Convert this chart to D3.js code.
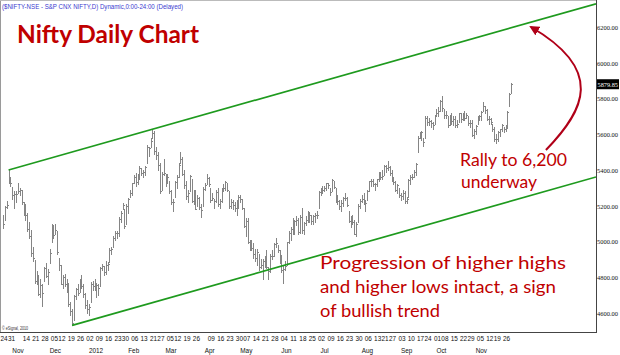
<!DOCTYPE html>
<html><head><meta charset="utf-8">
<script src="https://cdn.jsdelivr.net/npm/d3@7"></script>
<style>body{margin:0;background:#fff}svg{display:block}</style>
</head><body><svg id="c" width="620" height="355"></svg>
<script>
// ---------- DATA ----------
const dates = [
"2011-10-24","2011-10-25","2011-10-26","2011-10-28","2011-10-31",
"2011-11-01","2011-11-02","2011-11-03","2011-11-04","2011-11-08","2011-11-09","2011-11-11","2011-11-14","2011-11-15","2011-11-16","2011-11-17","2011-11-18","2011-11-21","2011-11-22","2011-11-23","2011-11-24","2011-11-25","2011-11-28","2011-11-29","2011-11-30",
"2011-12-01","2011-12-02","2011-12-05","2011-12-07","2011-12-08","2011-12-09","2011-12-12","2011-12-13","2011-12-14","2011-12-15","2011-12-16","2011-12-19","2011-12-20","2011-12-21","2011-12-22","2011-12-23","2011-12-26","2011-12-27","2011-12-28","2011-12-29","2011-12-30",
"2012-01-02","2012-01-03","2012-01-04","2012-01-05","2012-01-06","2012-01-09","2012-01-10","2012-01-11","2012-01-12","2012-01-13","2012-01-16","2012-01-17","2012-01-18","2012-01-19","2012-01-20","2012-01-23","2012-01-24","2012-01-25","2012-01-27","2012-01-30","2012-01-31",
"2012-02-01","2012-02-02","2012-02-03","2012-02-06","2012-02-07","2012-02-08","2012-02-09","2012-02-10","2012-02-13","2012-02-14","2012-02-15","2012-02-16","2012-02-17","2012-02-21","2012-02-22","2012-02-23","2012-02-24","2012-02-27","2012-02-28","2012-02-29",
"2012-03-01","2012-03-02","2012-03-05","2012-03-06","2012-03-07","2012-03-09","2012-03-12","2012-03-13","2012-03-14","2012-03-15","2012-03-16","2012-03-19","2012-03-20","2012-03-21","2012-03-22","2012-03-23","2012-03-26","2012-03-27","2012-03-28","2012-03-29","2012-03-30",
"2012-04-02","2012-04-03","2012-04-04","2012-04-09","2012-04-10","2012-04-11","2012-04-12","2012-04-13","2012-04-16","2012-04-17","2012-04-18","2012-04-19","2012-04-20","2012-04-23","2012-04-24","2012-04-25","2012-04-26","2012-04-27","2012-04-30",
"2012-05-02","2012-05-03","2012-05-04","2012-05-07","2012-05-08","2012-05-09","2012-05-10","2012-05-11","2012-05-14","2012-05-15","2012-05-16","2012-05-17","2012-05-18","2012-05-21","2012-05-22","2012-05-23","2012-05-24","2012-05-25","2012-05-28","2012-05-29","2012-05-30","2012-05-31",
"2012-06-01","2012-06-04","2012-06-05","2012-06-06","2012-06-07","2012-06-08","2012-06-11","2012-06-12","2012-06-13","2012-06-14","2012-06-15","2012-06-18","2012-06-19","2012-06-20","2012-06-21","2012-06-22","2012-06-25","2012-06-26","2012-06-27","2012-06-28","2012-06-29",
"2012-07-02","2012-07-03","2012-07-04","2012-07-05","2012-07-06","2012-07-09","2012-07-10","2012-07-11","2012-07-12","2012-07-13","2012-07-16","2012-07-17","2012-07-18","2012-07-19","2012-07-20","2012-07-23","2012-07-24","2012-07-25","2012-07-26","2012-07-27","2012-07-30","2012-07-31",
"2012-08-01","2012-08-02","2012-08-03","2012-08-06","2012-08-07","2012-08-08","2012-08-09","2012-08-10","2012-08-13","2012-08-14","2012-08-16","2012-08-17","2012-08-21","2012-08-22","2012-08-23","2012-08-24","2012-08-27","2012-08-28","2012-08-29","2012-08-30","2012-08-31",
"2012-09-03","2012-09-04","2012-09-05","2012-09-06","2012-09-07","2012-09-10","2012-09-11","2012-09-12","2012-09-13","2012-09-14","2012-09-17","2012-09-18","2012-09-20","2012-09-21","2012-09-24","2012-09-25","2012-09-26","2012-09-27","2012-09-28",
"2012-10-01","2012-10-03","2012-10-04","2012-10-05","2012-10-08","2012-10-09","2012-10-10","2012-10-11","2012-10-12","2012-10-15","2012-10-16","2012-10-17","2012-10-18","2012-10-19","2012-10-22","2012-10-23","2012-10-25","2012-10-26","2012-10-29","2012-10-30","2012-10-31",
"2012-11-01","2012-11-02","2012-11-05","2012-11-06","2012-11-07","2012-11-08","2012-11-09","2012-11-12","2012-11-13","2012-11-15","2012-11-16","2012-11-19","2012-11-20","2012-11-21","2012-11-22","2012-11-23","2012-11-26","2012-11-27","2012-11-29","2012-11-30"
];
const opens = [
5084,5124,5215,5340,5350,
5280,5210,5250,5300,5280,5270,5190,5190,5150,5070,5050,4930,4880,4790,4790,4700,4730,4790,4870,4790,
4900,5020,5075,5060,5050,4900,4850,4770,4810,4760,4765,4640,4600,4570,4700,4740,4730,4790,4740,4700,4660,
4640,4675,4770,4750,4720,4750,4760,4860,4850,4850,4850,4890,4960,4980,5030,5040,5040,5130,5200,5170,5110,
5200,5260,5270,5350,5370,5330,5370,5400,5380,5400,5440,5510,5550,5590,5610,5500,5480,5430,5300,5390,
5370,5350,5330,5270,5200,5260,5340,5370,5460,5460,5390,5300,5260,5290,5340,5240,5270,5210,5230,5180,5210,
5310,5330,5350,5290,5250,5220,5230,5290,5220,5230,5300,5310,5320,5270,5200,5220,5210,5200,5200,
5240,5230,5180,5050,5120,4990,4990,4960,4940,4900,4920,4870,4850,4890,4920,4850,4840,4930,4930,4990,4970,4910,
4910,4820,4860,4880,5000,5030,5110,5060,5120,5120,5060,5180,5060,5100,5130,5130,5140,5110,5150,5150,5190,
5280,5290,5300,5310,5320,5290,5290,5330,5290,5240,5220,5200,5220,5260,5240,5160,5110,5130,5110,5060,5120,5200,
5230,5240,5200,5240,5290,5340,5340,5320,5320,5350,5370,5370,5380,5420,5420,5410,5390,5340,5330,5290,5290,
5260,5250,5270,5220,5260,5340,5360,5370,5400,5510,5600,5590,5570,5590,5690,5670,5650,5650,5670,
5710,5720,5740,5790,5730,5720,5690,5660,5710,5670,5690,5650,5680,5710,5690,5720,5700,5690,5650,5670,5600,
5620,5670,5690,5700,5740,5750,5730,5690,5680,5650,5630,5580,5570,5600,5630,5630,5640,5650,5760,5840
];
const highs = [
5150,5198,5225,5400,5360,
5307,5280,5280,5326,5300,5290,5220,5210,5160,5110,5065,4970,4895,4835,4810,4790,4765,4860,4880,4845,
4960,5100,5090,5100,5060,4910,4870,4810,4820,4790,4770,4660,4620,4700,4740,4760,4790,4810,4760,4710,4670,
4650,4773,4780,4790,4770,4760,4860,4875,4865,4890,4885,4965,4970,5030,5060,5060,5135,5170,5217,5180,5210,
5245,5290,5330,5370,5385,5375,5420,5410,5400,5425,5540,5530,5580,5630,5620,5530,5500,5440,5390,5460,
5380,5380,5340,5290,5240,5340,5370,5440,5499,5470,5400,5340,5290,5370,5350,5290,5290,5260,5250,5210,5305,
5330,5378,5360,5300,5270,5240,5290,5300,5240,5300,5320,5340,5330,5280,5240,5230,5220,5230,5260,
5260,5240,5190,5130,5130,5010,5010,4990,4960,4960,4930,4900,4900,4920,4950,4860,4930,4950,4990,5020,4980,4950,
4925,4870,4890,5000,5060,5080,5130,5120,5140,5130,5150,5190,5110,5140,5170,5160,5150,5150,5160,5170,5285,
5300,5310,5310,5330,5330,5300,5348,5340,5300,5260,5230,5230,5250,5270,5250,5170,5140,5150,5120,5110,5210,5240,
5260,5270,5230,5290,5340,5350,5350,5330,5350,5390,5390,5400,5430,5430,5448,5420,5400,5360,5340,5320,5300,
5270,5290,5280,5250,5350,5370,5380,5400,5440,5590,5615,5620,5580,5700,5700,5690,5680,5670,5710,
5740,5750,5790,5815,5740,5730,5700,5710,5720,5700,5700,5680,5720,5720,5720,5730,5720,5700,5680,5680,5630,
5650,5700,5710,5730,5780,5760,5740,5700,5690,5660,5640,5600,5620,5630,5660,5640,5650,5730,5830,5885
];
const lows = [
5075,5120,5190,5325,5310,
5240,5190,5220,5270,5260,5210,5150,5120,5060,5020,4920,4890,4770,4760,4700,4690,4640,4780,4800,4760,
4880,5000,5020,5040,4930,4840,4760,4740,4750,4720,4640,4590,4531,4560,4680,4700,4720,4740,4690,4630,4600,
4588,4660,4730,4730,4690,4700,4750,4840,4810,4820,4840,4885,4930,4970,5010,5020,5030,5110,5180,5075,5100,
5160,5250,5260,5330,5310,5320,5350,5370,5360,5370,5440,5480,5530,5580,5490,5460,5400,5270,5290,5370,
5310,5330,5270,5210,5171,5250,5300,5360,5440,5370,5300,5240,5220,5280,5220,5210,5180,5200,5180,5135,5200,
5290,5320,5310,5220,5230,5190,5220,5200,5190,5220,5280,5290,5280,5190,5190,5180,5170,5150,5190,
5220,5180,5080,5030,4990,4950,4950,4910,4890,4870,4840,4850,4790,4860,4850,4790,4830,4900,4920,4970,4940,4880,
4830,4770,4840,4870,4990,5010,5040,5040,5090,5040,5050,5050,5040,5090,5110,5110,5100,5100,5110,5130,5190,
5260,5270,5280,5290,5300,5260,5280,5300,5220,5210,5180,5170,5200,5230,5200,5110,5080,5100,5040,5032,5110,5190,
5220,5210,5170,5230,5280,5310,5310,5290,5310,5340,5350,5350,5370,5390,5400,5370,5340,5320,5280,5270,5250,
5230,5240,5215,5215,5250,5320,5350,5360,5370,5500,5580,5570,5535,5580,5650,5650,5640,5630,5660,
5700,5700,5730,5730,5690,5690,5640,5650,5660,5650,5640,5640,5670,5670,5680,5680,5690,5650,5640,5590,5580,
5600,5660,5680,5680,5730,5720,5680,5660,5660,5620,5560,5550,5560,5590,5620,5610,5620,5640,5760,5830
];
const closes = [
5098,5191,5202,5360,5327,
5258,5265,5266,5284,5289,5221,5168,5148,5068,5030,4934,4905,4778,4812,4706,4756,4710,4851,4805,4832,
4936,5050,5039,5063,4943,4866,4764,4800,4763,4746,4651,4613,4544,4693,4733,4714,4779,4750,4705,4646,4624,
4636,4765,4749,4750,4754,4742,4849,4861,4831,4867,4873,4955,4956,5019,5048,5046,5128,5158,5204,5087,5199,
5235,5269,5325,5361,5335,5368,5412,5381,5390,5416,5531,5521,5564,5607,5505,5483,5429,5281,5375,5385,
5339,5359,5280,5222,5221,5333,5359,5430,5463,5380,5318,5257,5274,5364,5228,5278,5184,5243,5194,5178,5296,
5318,5358,5322,5234,5243,5226,5276,5207,5226,5289,5300,5332,5290,5200,5223,5202,5190,5190,5248,
5239,5188,5087,5114,4999,4974,4965,4928,4907,4942,4858,4870,4891,4907,4860,4835,4921,4920,4985,4990,4950,4924,
4841,4848,4863,4997,5049,5068,5054,5115,5121,5054,5139,5064,5103,5120,5165,5146,5114,5141,5149,5149,5279,
5278,5287,5302,5327,5316,5275,5345,5307,5235,5227,5197,5216,5241,5242,5205,5117,5128,5109,5043,5100,5199,5229,
5240,5227,5215,5282,5336,5338,5322,5320,5347,5380,5363,5366,5421,5413,5415,5386,5350,5334,5287,5315,5258,
5254,5274,5226,5238,5342,5359,5363,5391,5435,5578,5600,5611,5554,5691,5669,5673,5663,5649,5703,
5718,5731,5787,5747,5705,5705,5653,5708,5676,5688,5649,5660,5718,5683,5717,5691,5705,5664,5665,5598,5620,
5645,5698,5704,5724,5760,5738,5686,5683,5666,5631,5574,5571,5614,5627,5650,5627,5635,5727,5825,5879.85
];
const yTicks = [4600,4800,5000,5200,5400,5600,5800,6000,6200];
const weekLabels = ["2011-10-24","2011-10-31","2011-11-14","2011-11-21","2011-11-28","2011-12-05","2011-12-12","2011-12-19","2011-12-26",
"2012-01-02","2012-01-09","2012-01-16","2012-01-23","2012-01-30","2012-02-06","2012-02-13","2012-02-21","2012-02-27","2012-03-05","2012-03-12","2012-03-19","2012-03-26",
"2012-04-09","2012-04-16","2012-04-23","2012-04-30","2012-05-07","2012-05-14","2012-05-21","2012-05-28","2012-06-04","2012-06-11","2012-06-18","2012-06-25",
"2012-07-02","2012-07-09","2012-07-16","2012-07-23","2012-07-30","2012-08-06","2012-08-13","2012-08-21","2012-08-27","2012-09-03","2012-09-10","2012-09-17","2012-09-24",
"2012-10-01","2012-10-08","2012-10-15","2012-10-22","2012-10-29","2012-11-05","2012-11-12","2012-11-19","2012-11-26"];
const monthStarts = ["2011-11-01","2011-12-01","2012-01-02","2012-02-01","2012-03-01","2012-04-02","2012-05-02","2012-06-01","2012-07-02","2012-08-01","2012-09-03","2012-10-01","2012-11-01"];
const monthNames = ["Nov","Dec","2012","Feb","Mar","Apr","May","Jun","Jul","Aug","Sep","Oct","Nov"];
// channel lines: [bar index, price] anchor points
const upperChannel = [[3,5400],[317.4,6330]];
const lowerChannel = [[37,4531],[317.4,5361]];
// curved arrow, [bar index, price]: start, control1, control2, end
const rallyArrow = [[290.6,5512],[311.5,5736],[322.2,5959],[282.6,6200]];

// ---------- CHART ----------
const svg = d3.select('#c');
const plotR = 596, plotB = 332;
const red = '#c00000';
const idx = new Map(dates.map((d,i)=>[d,i]));
const x = d3.scaleLinear().domain([-1.6, 317.4]).range([0, plotR]);
const y = d3.scaleLinear().domain([4600, 6200]).range([313, 27]);

svg.append('rect').attr('width',620).attr('height',355).attr('fill','#fff');
svg.append('clipPath').attr('id','pc').append('rect').attr('x',0).attr('y',0).attr('width',plotR).attr('height',plotB);

const plot = svg.append('g').attr('clip-path','url(#pc)');

// OHLC bars
const bars = plot.append('g').attr('stroke','#858585').attr('stroke-width',1).attr('shape-rendering','crispEdges');
dates.forEach((d,i)=>{
  const px = Math.round(x(i)) + 0.5;
  bars.append('line').attr('x1',px).attr('x2',px).attr('y1',Math.round(y(highs[i]))).attr('y2',Math.round(y(lows[i]))+1);
  bars.append('line').attr('x1',px-1).attr('x2',px).attr('y1',Math.round(y(opens[i]))+0.5).attr('y2',Math.round(y(opens[i]))+0.5);
  bars.append('line').attr('x1',px).attr('x2',px+1).attr('y1',Math.round(y(closes[i]))+0.5).attr('y2',Math.round(y(closes[i]))+0.5);
});

// channel lines
[upperChannel, lowerChannel].forEach(l=>{
  plot.append('line').attr('x1',x(l[0][0])).attr('y1',y(l[0][1])).attr('x2',x(l[1][0])).attr('y2',y(l[1][1]))
    .attr('stroke','#1e9a1e').attr('stroke-width',1.7);
});

// frame
svg.append('line').attr('x1',0.5).attr('x2',0.5).attr('y1',0).attr('y2',plotB).attr('stroke','#9a9a9a');
svg.append('line').attr('x1',0).attr('x2',plotR).attr('y1',0.5).attr('y2',0.5).attr('stroke','#bbbbbb');
svg.append('line').attr('x1',plotR+0.5).attr('x2',plotR+0.5).attr('y1',0).attr('y2',plotB+1).attr('stroke','#444');
svg.append('line').attr('x1',0).attr('x2',plotR+1).attr('y1',plotB+0.5).attr('y2',plotB+0.5).attr('stroke','#444');

// right axis
const ya = svg.append('g').attr('transform',`translate(${plotR},0)`)
  .call(d3.axisRight(y).tickValues(yTicks).tickFormat(d3.format('.2f')).tickSize(0).tickPadding(1));
ya.select('.domain').remove();
ya.selectAll('text').attr('font-family','"Liberation Serif", serif').attr('font-size',7).attr('fill','#111')
  .attr('textLength',21).attr('lengthAdjust','spacingAndGlyphs');

// last price tag
const last = closes[closes.length-1];
svg.append('rect').attr('x',plotR+1).attr('y',y(last)-5).attr('width',22).attr('height',10).attr('fill','#000');
svg.append('text').attr('x',plotR+1.5).attr('y',y(last)+2.5).text(d3.format('.2f')(last))
  .attr('font-family','"Liberation Serif", serif').attr('font-size',7).attr('fill','#fff')
  .attr('textLength',20.5).attr('lengthAdjust','spacingAndGlyphs');

// x axis labels
const xl = svg.append('g').attr('font-family','"Liberation Sans Narrow","Arial Narrow","Liberation Sans",sans-serif').attr('font-size',8).attr('fill','#111');
weekLabels.forEach(d=>{
  xl.append('text').attr('x',x(idx.get(d))+1).attr('y',341).attr('text-anchor','middle').text(d.slice(8));
});
monthStarts.forEach((d,k)=>{
  xl.append('text').attr('x',x(idx.get(d))).attr('y',353).text(monthNames[k]);
});
xl.selectAll('text').each(function(){
  const w = this.getComputedTextLength();
  if (w > 0) d3.select(this).attr('textLength', w*0.8).attr('lengthAdjust','spacingAndGlyphs');
});

// header
svg.append('text').attr('x',2).attr('y',9).text('($NIFTY-NSE - S&P CNX NIFTY,D) Dynamic,0:00-24:00 (Delayed)')
  .attr('font-family','"Liberation Sans Narrow","Liberation Sans",sans-serif').attr('font-size',8).attr('fill','#3b3bd0')
  .attr('textLength',181).attr('lengthAdjust','spacingAndGlyphs');

// copyright
svg.append('text').attr('x',2).attr('y',330).text('© eSignal, 2010')
  .attr('font-family','"Liberation Sans",sans-serif').attr('font-size',4.5).attr('fill','#333')
  .attr('textLength',26).attr('lengthAdjust','spacingAndGlyphs');

// title and notes
const note = (txt, px, py, size, len, weight) => svg.append('text').attr('x',px).attr('y',py).text(txt)
  .attr('font-family','Lato, "Open Sans", sans-serif').attr('font-size',size).attr('font-weight',weight||'normal')
  .attr('fill',red).attr('textLength',len).attr('lengthAdjust','spacingAndGlyphs');
note('Nifty Daily Chart', 17, 43, 25, 182, 'bold');
note('Rally to 6,200', 460, 166, 18, 107);
note('underway', 461, 188, 18, 76);
note('Progression of higher highs', 320, 269, 18, 246);
note('and higher lows intact, a sign', 320, 293, 18, 236);
note('of bullish trend', 320, 317, 18, 120);

// curved arrow
svg.append('defs').append('marker').attr('id','ah').attr('viewBox','0 0 10 10').attr('refX',8).attr('refY',5)
  .attr('markerWidth',5).attr('markerHeight',5).attr('orient','auto')
  .append('path').attr('d','M0,0 L10,5 L0,10 z').attr('fill','#b00018');
const p = d3.path();
p.moveTo(x(rallyArrow[0][0]), y(rallyArrow[0][1]));
p.bezierCurveTo(x(rallyArrow[1][0]), y(rallyArrow[1][1]), x(rallyArrow[2][0]), y(rallyArrow[2][1]), x(rallyArrow[3][0]), y(rallyArrow[3][1]));
svg.append('path').attr('d',p.toString()).attr('fill','none').attr('stroke','#b00018').attr('stroke-width',2).attr('marker-end','url(#ah)');
</script></body></html>
